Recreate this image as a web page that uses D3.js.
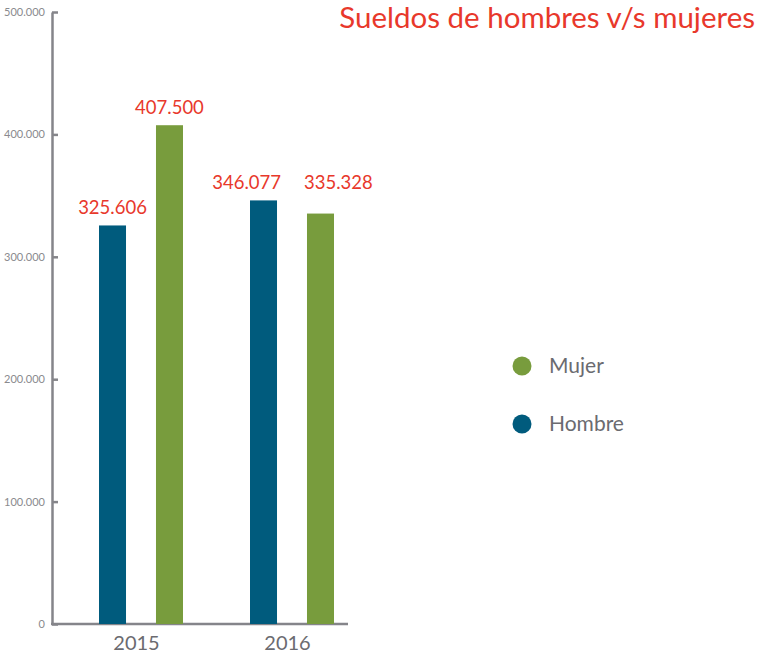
<!DOCTYPE html>
<html>
<head>
<meta charset="utf-8">
<script src="https://cdn.jsdelivr.net/npm/d3@7"></script>
<style>
  body { margin: 0; background: #fff; }
  text { font-family: Lato, "Open Sans", sans-serif; }
</style>
</head>
<body>
<div id="vis"></div>
<script>
// chart data
const YEARS = ["2015", "2016"];
const SERIES = ["Hombre", "Mujer"];
const HOMBRE = [325606, 346077];
const MUJER = [407500, 335328];
const Y_TICKS = [0, 100000, 200000, 300000, 400000, 500000];
const LEGEND = ["Mujer", "Hombre"];

const COLORS = {Hombre: "#005b7d", Mujer: "#789c3d"};
const RED = "#e8382b";

const FRAME_WIDTH = 759;
const FRAME_HEIGHT = 666;

const svg = d3.select("#vis")
  .append("svg")
    .attr("width", FRAME_WIDTH)
    .attr("height", FRAME_HEIGHT);

// spanish number format: 407.500
const locale = d3.formatLocale({decimal: ",", thousands: ".", grouping: [3], currency: ["$", ""]});
const fmt = locale.format(",d");

const Y_SCALE = d3.scaleLinear()
  .domain([0, 500000])
  .range([624, 12]);

const X0 = d3.scaleBand()
  .domain(YEARS)
  .range([65, 367]);

const X1 = d3.scaleBand()
  .domain(SERIES)
  .range([34, 118])
  .paddingInner(0.526)
  .paddingOuter(0);

const rows = YEARS.map((y, i) => ({year: y, Hombre: HOMBRE[i], Mujer: MUJER[i]}));

// y axis
const yAxis = svg.append("g")
  .attr("transform", "translate(52,0)")
  .call(d3.axisLeft(Y_SCALE).tickValues(Y_TICKS).tickFormat(fmt)
    .tickSize(-6).tickSizeOuter(0).tickPadding(7));
yAxis.select(".domain").attr("stroke", "#85858a").attr("stroke-width", 2.5);
yAxis.selectAll(".tick line").attr("stroke", "#85858a").attr("stroke-width", 2.5);
yAxis.selectAll(".tick text")
  .attr("fill", "#8a8a8e")
  .attr("font-size", "11px");

// x axis line
svg.append("line")
  .attr("x1", 51).attr("x2", 348)
  .attr("y1", Y_SCALE(0)).attr("y2", Y_SCALE(0))
  .attr("stroke", "#85858a")
  .attr("stroke-width", 2.5);

// bars
const groups = svg.selectAll(".grp")
  .data(rows)
  .enter()
  .append("g")
    .attr("class", "grp")
    .attr("transform", d => "translate(" + X0(d.year) + ",0)");

const cells = d => {
  const top = Y_SCALE(Math.max(d.Hombre, d.Mujer));
  const low = Y_SCALE(Math.min(d.Hombre, d.Mujer));
  const shared = low - top < 24;
  return SERIES.map(s => {
    const c = {key: s, value: d[s], ly: Y_SCALE(d[s]), anchor: "middle",
               lx: X1(s) + X1.bandwidth() / 2};
    // labels that would overlap share the higher baseline and move apart
    if (shared) {
      c.ly = top;
      if (s === "Hombre") { c.anchor = "end"; c.lx = X1(s) + X1.bandwidth() + 4; }
      else { c.anchor = "start"; c.lx = X1(s) - 3; }
    }
    return c;
  });
};

groups.selectAll("rect")
  .data(cells)
  .enter()
  .append("rect")
    .attr("x", d => X1(d.key))
    .attr("y", d => Y_SCALE(d.value))
    .attr("width", X1.bandwidth())
    .attr("height", d => Y_SCALE(0) - Y_SCALE(d.value))
    .attr("fill", d => COLORS[d.key]);

groups.selectAll(".lbl")
  .data(cells)
  .enter()
  .append("text")
    .attr("class", "lbl")
    .attr("x", d => d.lx)
    .attr("y", d => d.ly - 11)
    .attr("text-anchor", d => d.anchor)
    .attr("fill", RED)
    .attr("font-size", "18.5px")
    .text(d => fmt(d.value));

// year labels
const xAxis = svg.append("g")
  .attr("transform", "translate(-4," + Y_SCALE(0) + ")")
  .call(d3.axisBottom(X0).tickSize(0).tickPadding(12));
xAxis.select(".domain").remove();
xAxis.selectAll("text")
  .attr("fill", "#6b6b70")
  .attr("font-size", "20px");

// title
svg.append("text")
  .attr("x", 755)
  .attr("y", 28)
  .attr("text-anchor", "end")
  .attr("fill", RED)
  .attr("font-size", "29.5px")
  .text("Sueldos de hombres v/s mujeres");

// legend
const leg = svg.selectAll(".leg")
  .data(LEGEND)
  .enter()
  .append("g")
    .attr("class", "leg")
    .attr("transform", (d, i) => "translate(522," + (366 + i * 58) + ")");
leg.append("circle")
  .attr("r", 9.5)
  .attr("fill", d => COLORS[d]);
leg.append("text")
  .attr("x", 27)
  .attr("y", 7)
  .attr("fill", "#6b6b70")
  .attr("font-size", "21px")
  .text(d => d);
</script>
</body>
</html>
